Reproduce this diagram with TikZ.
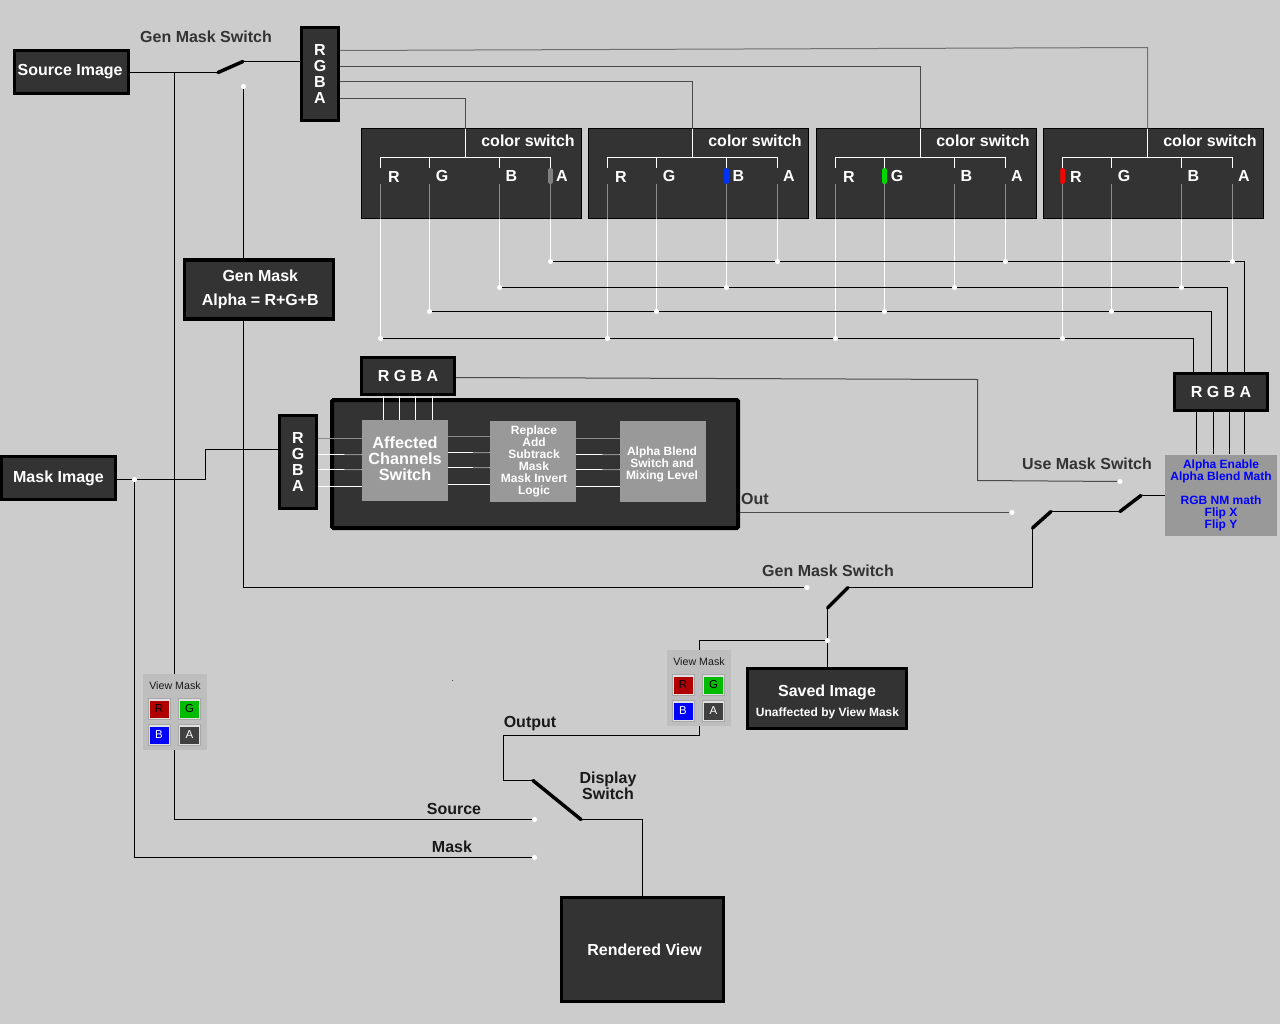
\documentclass[tikz,border=0pt]{standalone}
\usepackage{fontspec}
\setmainfont{Liberation Sans}
\usetikzlibrary{calc}
\definecolor{bggray}{HTML}{CCCCCC}
\definecolor{boxgray}{HTML}{333333}
\definecolor{blockgray}{HTML}{999999}
\definecolor{linegray}{HTML}{8C8C8C}
\definecolor{wiregray}{HTML}{4A4A4A}
\definecolor{toplinegray}{HTML}{707070}
\definecolor{panelbg}{HTML}{BEBEBE}
\definecolor{butrim}{HTML}{A8A8A8}
\definecolor{butfill}{HTML}{E0E0E0}
\tikzset{sz/.style 2 args={minimum width=#1*0.75pt,minimum height=#2*0.75pt}}
\tikzstyle{heavybox} = [rectangle, draw=black, line width=2.4pt, fill=boxgray, text=white, inner sep=0pt, align=center, font=\fontsize{12}{12}\selectfont\bfseries]
\tikzstyle{colorpanel} = [rectangle, draw=black, line width=.75pt, fill=boxgray, sz={220}{90}]
\tikzstyle{block} = [rectangle, fill=blockgray, inner sep=0pt]
\tikzstyle{blocktext} = [text=white, inner sep=0pt, align=center, font=\fontsize{9}{9}\selectfont\bfseries]
\tikzstyle{caption} = [inner sep=0pt, align=center, text=boxgray, font=\fontsize{12}{12}\selectfont\bfseries]
\tikzstyle{chanlabel} = [inner sep=0pt, text=white, font=\fontsize{12}{12}\selectfont\bfseries]
\tikzstyle{dot} = [circle, fill=white, inner sep=0pt, minimum size=3.8pt]
\tikzstyle{wire} = [black, line width=.75pt]
\tikzstyle{darkwire} = [wiregray, line width=.75pt]
\tikzstyle{greywire} = [linegray, line width=.75pt]
\tikzstyle{whitewire} = [white, line width=.75pt]
\tikzstyle{switcharm} = [black, line width=2.6pt, line cap=round]
\tikzstyle{chanmark} = [rectangle, rounded corners=1pt, minimum width=3.4pt, minimum height=12pt, inner sep=0pt]
\tikzstyle{maskpanel} = [rectangle, fill=panelbg, inner sep=0pt, sz={64}{76}]
\tikzstyle{maskbutton} = [rectangle, draw=butrim, line width=.75pt, fill=butfill, sz={22}{21}]
\tikzstyle{maskface} = [rectangle, inner sep=0pt, sz={19}{17}, font=\fontsize{8.6}{8}\selectfont]
% view mask widget: name, centre x, centre y
\newcommand{\viewmask}[3]{
\node (#1) [maskpanel] at (#2,#3) {};
\node (#1text) [inner sep=0pt, font=\fontsize{8}{8}\selectfont, text=black!90] at (#2,#3-26) {View Mask};
\foreach \c/\dx/\dy/\col/\txt in {R/-16/-3/B00000/black, G/14.5/-3/00BB00/black, B/-16/23/0000FF/white, A/14.5/23/404040/white}{
\definecolor{facecol}{HTML}{\col}
\node (#1but\c) [maskbutton] at (#2+\dx,#3+\dy) {};
\node (#1\c) [maskface, fill=facecol, text=\txt] at (#2+\dx,#3+\dy) {\c};
}
}

\begin{document}
\begin{tikzpicture}[x=0.75pt,y=-0.75pt]

\fill[bggray] (0,0) rectangle (1280,1024);
\useasboundingbox (0,0) rectangle (1280,1024);

% image boxes
\node (source) [heavybox, sz={114}{43}] at (71.5,72) {Source Image\hspace{2pt}};
\node (maskimg) [heavybox, sz={114}{43}] at (58.5,478) {Mask Image};
\node (rgbaT) [heavybox, sz={37}{93}] at (320,74) {R\\G\\B\\A};
\node (genmask) [heavybox, sz={149}{59}, font=\fontsize{12}{18}\selectfont\bfseries] at (259,289.5) {\hspace{2pt}Gen Mask\\\hspace{2pt}Alpha = R+G+B};
\node (saved) [heavybox, sz={159}{60}] at (827,698.5) {};
\node (savedtitle) [chanlabel] at (827,692) {Saved Image};
\node (savednote) [chanlabel, font=\fontsize{9}{9}\selectfont\bfseries] at (827.5,713) {Unaffected by View Mask};
\node (rendered) [heavybox, sz={162}{104}] at (642.5,949.5) {\hspace{3pt}Rendered View};

% color switch panels
\foreach \n/\x/\sel/\selcol in {1/380.5/170/gray, 2/607.5/119/blue!80!cyan, 3/835.5/49/green!85!black, 4/1062.5/0/red}{
\node (panel\n) [colorpanel] at (\x+91,173.5) {};
\node (title\n) [chanlabel] at (\x+147.5,140.5) {color switch};
\coordinate (feed\n) at (\x+85,128.5);
\coordinate (brack\n) at (\x+85,157.5);
\draw[whitewire] (feed\n) -- (brack\n);
\draw[whitewire] (\x,167.5) -- (\x,157.5) -- (\x+170,157.5) -- (\x+170,167.5);
\draw[whitewire] (\x+49,157.5) -- (\x+49,167.5);
\draw[whitewire] (\x+119,157.5) -- (\x+119,167.5);
\node (selmark\n) [chanmark, fill=\selcol] at (\x+\sel,176) {};
\node (r\n) [chanlabel] at (\x+13.5,177) {R};
\node (g\n) [chanlabel] at (\x+61.5,176) {G};
\node (b\n) [chanlabel] at (\x+131,176) {B};
\node (a\n) [chanlabel] at (\x+181.5,176) {A};
\node (dotr\n) [dot] at (\x,338.5) {};
\node (dotg\n) [dot] at (\x+49,311.5) {};
\node (dotb\n) [dot] at (\x+119,287.5) {};
\node (dota\n) [dot] at (\x+170,261.5) {};
\foreach \c/\dx/\yy in {r/0/184, g/49/184, b/119/184, a/170/184}{
\coordinate (out\c\n) at (\x+\dx,\yy);
\coordinate (edge\c\n) at (\x+\dx,219);
\draw[whitewire] (edge\c\n) -- (dot\c\n);
\draw[greywire] (out\c\n) -- (edge\c\n);
}
}

% lines from the top RGBA box
\draw[toplinegray, line width=.75pt] (rgbaT.east |- 0,50.5) -- (1147.5,47.5) -- (feed4);
\draw[darkwire] (rgbaT.east |- 0,66.5) -- (920.5,66.5) -- (feed3);
\draw[darkwire] (rgbaT.east |- 0,81.5) -- (692.5,81.5) -- (feed2);
\draw[darkwire] (rgbaT.east |- 0,98.5) -- (465.5,98.5) -- (feed1);

% right RGBA box and math box
\node (rgbaR) [heavybox, sz={93}{37}] at (1221,392) {R G B A};
\node (math) [block, text=blue, align=center, font=\fontsize{9}{9}\selectfont\bfseries, sz={112}{81}] at (1221,495) {Alpha Enable\\Alpha Blend Math\\[9pt]RGB NM math\\Flip X\\Flip Y};

\draw[wire] (dotr1) -- (dotr2) -- (dotr3) -- (dotr4) -| (rgbaR.north -| 1193.5,0);
\draw[wire] (dotg1) -- (dotg2) -- (dotg3) -- (dotg4) -| (rgbaR.north -| 1211.5,0);
\draw[wire] (dotb1) -- (dotb2) -- (dotb3) -- (dotb4) -| (rgbaR.north -| 1227.5,0);
\draw[wire] (dota1) -- (dota2) -- (dota3) -- (dota4) -| (rgbaR.north -| 1244.5,0);
\foreach \xb in {1196.5,1213.5,1229.5,1244.5}{
\draw[wire] (rgbaR.south -| \xb,0) -- (math.north -| \xb,0);
}

% effect box
\node (effect) [heavybox, line width=3pt, rounded corners=1pt, sz={406}{128}] at (535,464) {};
\node (rgbaM) [heavybox, sz={93}{37}] at (408,376) {R G B A};
\node (rgbaL) [heavybox, sz={37}{93}] at (298,462) {R\\G\\B\\A};
\node (affected) [block, sz={86}{81}] at (405,460.5) {};
\node (replace) [block, sz={86}{81}] at (533,461.5) {};
\node (alpha) [block, sz={86}{81}] at (663,461.5) {};
\node (affectedtext) [blocktext, font=\fontsize{12.2}{12}\selectfont\bfseries] at (405,459) {Affected\\Channels\\Switch};
\node (replacetext) [blocktext] at (534,461) {Replace\\Add\\Subtrack\\Mask\\Mask Invert\\Logic};
\node (alphatext) [blocktext] at (662,464) {Alpha Blend\\Switch and\\Mixing Level};

\foreach \xx in {383.5,399.5,415.5,432.5}{
\draw[whitewire] (rgbaM.south -| \xx,0) -- (affected.north -| \xx,0);
}
\foreach \yy in {438.5,454.5,469.5,486.5}{
\draw[whitewire] (rgbaL.east |- 0,\yy) -- (affected.west |- 0,\yy);
\draw[whitewire] (replace.east |- 0,\yy) -- (alpha.west |- 0,\yy);
}
\foreach \yy in {436.5,452.5,467.5,484.5}{
\draw[whitewire] (affected.east |- 0,\yy) -- (replace.west |- 0,\yy);
}
\foreach \yy/\f in {438.5/0,454.5/.6,469.5/.6}{
\draw[greywire] ($(rgbaL.east |- 0,\yy)!\f!(affected.west |- 0,\yy)$) -- (affected.west |- 0,\yy);
\draw[greywire] ($(replace.east |- 0,\yy)!\f!(alpha.west |- 0,\yy)$) -- (alpha.west |- 0,\yy);
\draw[greywire] ($(affected.east |- 0,\yy-2)!\f!(replace.west |- 0,\yy-2)$) -- (replace.west |- 0,\yy-2);
}

% first gen mask switch
\coordinate (swA) at (218,72.5);
\coordinate (swB) at (243,61.5);
\node (dotgen) [dot] at (243.5,86.5) {};
\coordinate (srcjoin) at (174.5,72.5);
\draw[wire] (source.east |- swA) -- (swA);
\draw[switcharm] (swA) -- (swB);
\draw[wire] (swB) -- (rgbaT.west |- swB);
\draw[wire] (dotgen) -- (dotgen |- genmask.north);

% mask input
\node (dotmask) [dot] at (134.5,479.5) {};
\draw[wire] (maskimg.east |- dotmask) -- (dotmask) -- (205.5,479.5) -- (205.5,449.5) -- (rgbaL.west |- 0,449.5);

% use mask switch
\coordinate (useA) at (1120,511.5);
\coordinate (useB) at (1141,495.5);
\coordinate (genA) at (1032.5,528);
\coordinate (genB) at (1051,511.5);
\node (dotuse) [dot] at (1120,481.5) {};
\node (dotout) [dot] at (1012,512.5) {};
\draw[wire] (math.west |- useB) -- (useB);
\draw[switcharm] (useB) -- (useA);
\draw[wire] (useA) -- (genB);
\draw[switcharm] (genB) -- (genA);
\draw[darkwire] (rgbaM.east |- 0,377.5) -- (977.5,379.5) -- (977.5,480.5) -- (dotuse);
\draw[darkwire] (effect.east |- dotout) -- (dotout);

% second gen mask switch
\coordinate (swC) at (848,587.5);
\coordinate (swD) at (827.5,608);
\node (dotgen2) [dot] at (807,587.5) {};
\node (dotsaved) [dot] at (827.5,640.5) {};
\draw[wire] (genA) -- (1032.5,587.5) -- (swC);
\draw[switcharm] (swC) -- (swD);
\draw[wire] (swD) -- (dotsaved) -- (dotsaved |- saved.north);
\draw[wire] (genmask.south -| dotgen) -- (243.5,587.5) -- (dotgen2);

% view mask widgets
\viewmask{vmsrc}{175}{712}
\viewmask{vmout}{699}{688}
\draw[wire] (srcjoin) -- (srcjoin |- vmsrc.north);
\draw[wire] (dotsaved) -- (699.5,640.5) -- (699.5,650);

% display switch
\coordinate (dispA) at (533,780.5);
\coordinate (dispB) at (581,819.5);
\node (dotsrc) [dot] at (534.5,819.5) {};
\node (dotmsk) [dot] at (534.5,857.5) {};
\draw[wire] (699.5,726) -- (699.5,735.5) -- (503.5,735.5) -- (503.5,780.5) -- (dispA);
\draw[switcharm] (dispA) -- (dispB);
\draw[wire] (dispB) -- (642.5,819.5) -- (642.5,897);
\draw[wire] (srcjoin |- vmsrc.south) -- (174.5,819.5) -- (dotsrc);
\draw[wire] (dotmask) -- (134.5,857.5) -- (dotmsk);

% labels
\node (capgen) [caption] at (206,37) {Gen Mask Switch};
\node (capuse) [caption] at (1087,464) {Use Mask Switch};
\node (capgen2) [caption] at (828,571) {Gen Mask Switch};
\node (capout) [caption] at (755,499) {Out};
\node (capoutput) [caption, text=black!90] at (530,723.5) {Output};
\node (capdisp) [caption, text=black!90] at (608,786) {Display\\Switch};
\node (capsrc) [caption, text=black!90] at (454,809) {Source};
\node (capmsk) [caption, text=black!90] at (452,847) {Mask};
\node (speck) [rectangle, fill=black!70, inner sep=0pt, minimum size=.75pt] at (452.5,680.5) {};

\end{tikzpicture}
\end{document}
